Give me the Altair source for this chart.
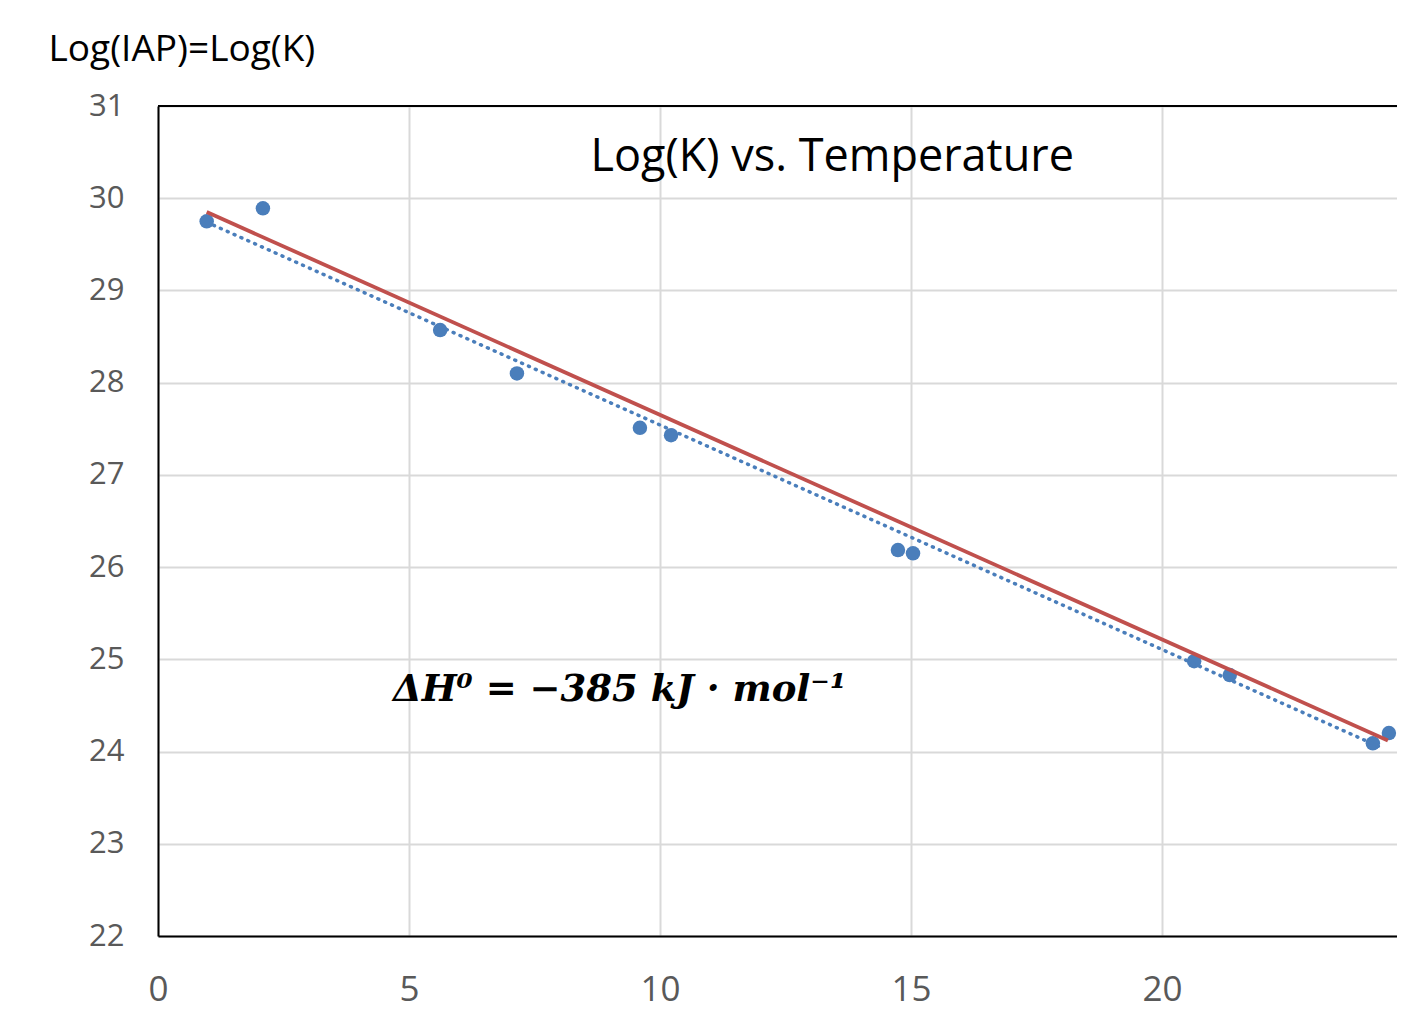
import altair as alt
import pandas as pd

# Data points
temp = [0.97, 2.09, 5.62, 7.15, 9.60, 10.22, 14.74, 15.04, 20.64, 21.35, 24.20, 24.52]
logk = [29.75, 29.89, 28.57, 28.10, 27.51, 27.43, 26.185, 26.15, 24.98, 24.83, 24.09, 24.20]

# Red fitted line endpoints
red_x = [0.97, 24.50]
red_y = [29.85, 24.12]

# Blue dotted trendline endpoints
trend_x = [0.97, 24.38]
trend_y = [29.74, 24.04]

x_ticks = [0, 5, 10, 15, 20]
y_ticks = [22, 23, 24, 25, 26, 27, 28, 29, 30, 31]

title_text = "Log(K) vs. Temperature"
title_x = [13.43]
title_y = [30.45]
y_label = "Log(IAP)=Log(K)"
note_text = "ΔH⁰ = −385 kJ · mol⁻¹"
note_x = [4.68]
note_y = [24.67]

pts = pd.DataFrame({"x": temp, "y": logk})
red = pd.DataFrame({"x": red_x, "y": red_y})
trend = pd.DataFrame({"x": trend_x, "y": trend_y})
note = pd.DataFrame({"x": note_x, "y": note_y, "t": [note_text]})
ttl = pd.DataFrame({"x": title_x, "y": title_y, "t": [title_text]})
top = pd.DataFrame({"y": [31]})

PLOT_W = 1239
xs = alt.Scale(domain=[0, PLOT_W / 50.2], nice=False)
ys = alt.Scale(domain=[22, 31], nice=False)

xax = alt.Axis(values=x_ticks, title=None, grid=True, gridColor="#d9d9d9", gridWidth=2,
               domainColor="black", domainWidth=2, ticks=False, labelFontSize=35,
               labelColor="#595959", labelFont="Open Sans", labelPadding=36,
               labelFlush=False, format="d")
yax = alt.Axis(values=y_ticks, title=y_label, grid=True, gridColor="#d9d9d9", gridWidth=2,
               domainColor="black", domainWidth=2, ticks=False, labelFontSize=31,
               labelColor="#595959", labelFont="Open Sans", labelPadding=34,
               labelFlush=False, format="d",
               titleAngle=0, titleX=-110, titleY=-46, titleAlign="left",
               titleBaseline="alphabetic", titleFont="Open Sans", titleFontSize=37,
               titleFontWeight="normal", titleColor="black")

base = alt.Chart(pts).mark_circle(size=210, color="#4a7ebb", opacity=1).encode(
    x=alt.X("x:Q", scale=xs, axis=xax),
    y=alt.Y("y:Q", scale=ys, axis=yax),
)

trend_line = alt.Chart(trend).mark_line(color="#4a7ebb", strokeWidth=3.5, strokeDash=[1, 6.5],
                                        strokeCap="round").encode(
    x=alt.X("x:Q", scale=xs), y=alt.Y("y:Q", scale=ys))

red_line = alt.Chart(red).mark_line(color="#c0504d", strokeWidth=3.8).encode(
    x=alt.X("x:Q", scale=xs), y=alt.Y("y:Q", scale=ys))

top_rule = alt.Chart(top).mark_rule(color="black", strokeWidth=2).encode(
    y=alt.Y("y:Q", scale=ys))

note_mark = alt.Chart(note).mark_text(align="left", baseline="middle", font="DejaVu Serif",
                                      fontSize=37, fontWeight="bold", fontStyle="italic",
                                      color="black").encode(
    x=alt.X("x:Q", scale=xs), y=alt.Y("y:Q", scale=ys), text="t:N")

title_mark = alt.Chart(ttl).mark_text(align="center", baseline="middle", font="Open Sans",
                                      fontSize=45, color="black").encode(
    x=alt.X("x:Q", scale=xs), y=alt.Y("y:Q", scale=ys), text="t:N")

chart = alt.layer(base, trend_line, red_line, top_rule, note_mark, title_mark).properties(
    width=PLOT_W, height=830,
    autosize=alt.AutoSizeParams(type="none"),
    padding={"left": 150, "top": 98, "right": 0, "bottom": 70},
    background="white",
).configure_view(stroke=None)

chart.save("out.html", embed_options={"renderer": "svg", "actions": False})
